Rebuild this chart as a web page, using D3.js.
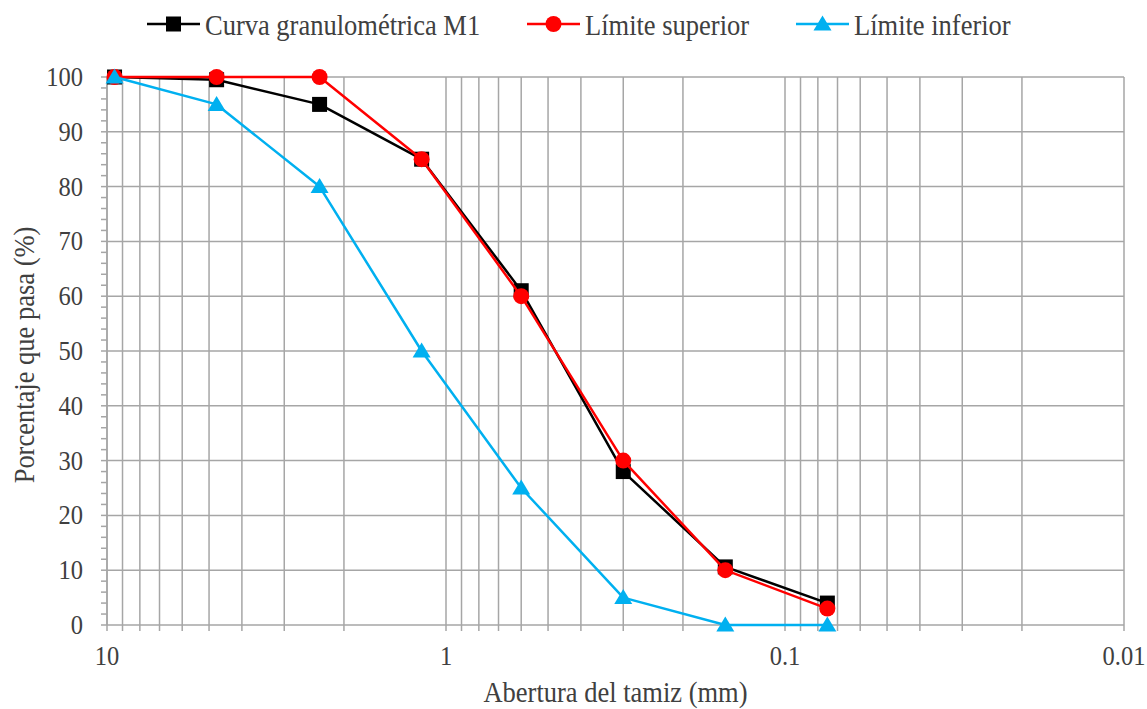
<!DOCTYPE html>
<html>
<head>
<meta charset="utf-8">
<script src="https://cdnjs.cloudflare.com/ajax/libs/d3/7.8.5/d3.min.js"></script>
<style>
  body { margin: 0; background: #fff; }
</style>
</head>
<body>
<svg id="chart" width="1147" height="709"></svg>
<script>
const sieves = [9.5, 4.75, 2.36, 1.18, 0.6, 0.3, 0.15, 0.075];
const curvaM1 = [100, 99.5, 95, 85, 61, 28, 10.6, 4];
const limSuperior = [100, 100, 100, 85, 60, 30, 10, 3];
const limInferior = [100, 95, 80, 50, 25, 5, 0, 0];
const yTicks = [0, 10, 20, 30, 40, 50, 60, 70, 80, 90, 100];
const xTickLabels = [10, 1, 0.1, 0.01];

const series = [
  { name: 'Curva granulométrica M1', values: curvaM1, color: '#000000', marker: 'square' },
  { name: 'Límite superior', values: limSuperior, color: '#FF0000', marker: 'circle' },
  { name: 'Límite inferior', values: limInferior, color: '#00B0F0', marker: 'triangle' },
];

const margin = { top: 77, left: 107, right: 23, bottom: 84 };
const svgWidth = 1147, svgHeight = 709;
const width = svgWidth - margin.left - margin.right;
const height = svgHeight - margin.top - margin.bottom;

const svg = d3.select('#chart');
const g = svg.append('g').attr('transform', `translate(${margin.left},${margin.top})`);

const x = d3.scaleLog().domain([10, 0.01]).range([0, width]);
const y = d3.scaleLinear().domain([0, 100]).range([height, 0]);

const gridColor = '#A6A6A6';
const textColor = '#404040';
const fontFamily = "'Liberation Serif', 'Times New Roman', serif";
const stretch = 1.13; // glyphs in the picture are a bit taller than wide

function label(parent, px, py, txt, size, anchor, rotate) {
  const t = parent.append('g')
    .attr('transform', `translate(${px},${py})${rotate ? ' rotate(-90)' : ''} scale(1,${stretch})`);
  t.append('text')
    .attr('text-anchor', anchor)
    .attr('font-family', fontFamily)
    .attr('font-size', size)
    .attr('fill', textColor)
    .text(txt);
  return t;
}

// vertical gridlines: 1..9 per decade
const xGrid = [];
[0.01, 0.1, 1].forEach(d => {
  for (let k = 1; k <= 9; k++) xGrid.push(d * k);
});
xGrid.push(10);

g.append('g')
  .selectAll('line')
  .data(xGrid)
  .join('line')
    .attr('x1', d => x(d)).attr('x2', d => x(d))
    .attr('y1', 0).attr('y2', height + 6)
    .attr('stroke', gridColor)
    .attr('stroke-width', 1.5);

// horizontal gridlines
g.append('g')
  .selectAll('line')
  .data(yTicks)
  .join('line')
    .attr('x1', 0).attr('x2', width)
    .attr('y1', d => y(d)).attr('y2', d => y(d))
    .attr('stroke', gridColor)
    .attr('stroke-width', 1.5);

// y axis line and minor ticks
g.append('line')
  .attr('x1', 0).attr('x2', 0)
  .attr('y1', 0).attr('y2', height)
  .attr('stroke', gridColor)
  .attr('stroke-width', 1.5);

g.append('g')
  .selectAll('line')
  .data(d3.range(0, 101, 2))
  .join('line')
    .attr('x1', -6).attr('x2', 0)
    .attr('y1', d => y(d)).attr('y2', d => y(d))
    .attr('stroke', gridColor)
    .attr('stroke-width', 1.5);

// tick labels
yTicks.forEach(d => label(g, -24, y(d) + 9, d, 24.5, 'end'));
xTickLabels.forEach(d => label(g, x(d), height + 40, d, 24.5, 'middle'));

// axis titles
label(svg, 34, 355, 'Porcentaje que pasa (%)', 26.5, 'middle', true);
label(svg, margin.left + width / 2, 702, 'Abertura del tamiz (mm)', 26.5, 'middle');

const line = d3.line()
  .x((d, i) => x(sieves[i]))
  .y(d => y(d));

function drawMarker(sel, type, color) {
  if (type === 'square') {
    sel.append('rect')
      .attr('x', -7.5).attr('y', -7.5)
      .attr('width', 15).attr('height', 15)
      .attr('fill', color);
  } else if (type === 'circle') {
    sel.append('circle').attr('r', 8).attr('fill', color);
  } else {
    sel.append('path')
      .attr('d', 'M0,-8.5L9,6.5L-9,6.5Z')
      .attr('fill', color);
  }
}

series.forEach(s => {
  g.append('path')
    .datum(s.values)
    .attr('fill', 'none')
    .attr('stroke', s.color)
    .attr('stroke-width', 2.5)
    .attr('stroke-linejoin', 'round')
    .attr('d', line);

  s.values.forEach((v, i) => {
    const m = g.append('g').attr('transform', `translate(${x(sieves[i])},${y(v)})`);
    drawMarker(m, s.marker, s.color);
  });
});

// legend
const legendPos = [147, 527, 796];
series.forEach((s, i) => {
  const lg = svg.append('g').attr('transform', `translate(${legendPos[i]},24)`);
  lg.append('line')
    .attr('x1', 0).attr('x2', 53)
    .attr('stroke', s.color)
    .attr('stroke-width', 2.5);
  const m = lg.append('g').attr('transform', 'translate(26.5,0)');
  drawMarker(m, s.marker, s.color);
  label(lg, 58, 10.5, s.name, 26.5, 'start');
});
</script>
</body>
</html>
